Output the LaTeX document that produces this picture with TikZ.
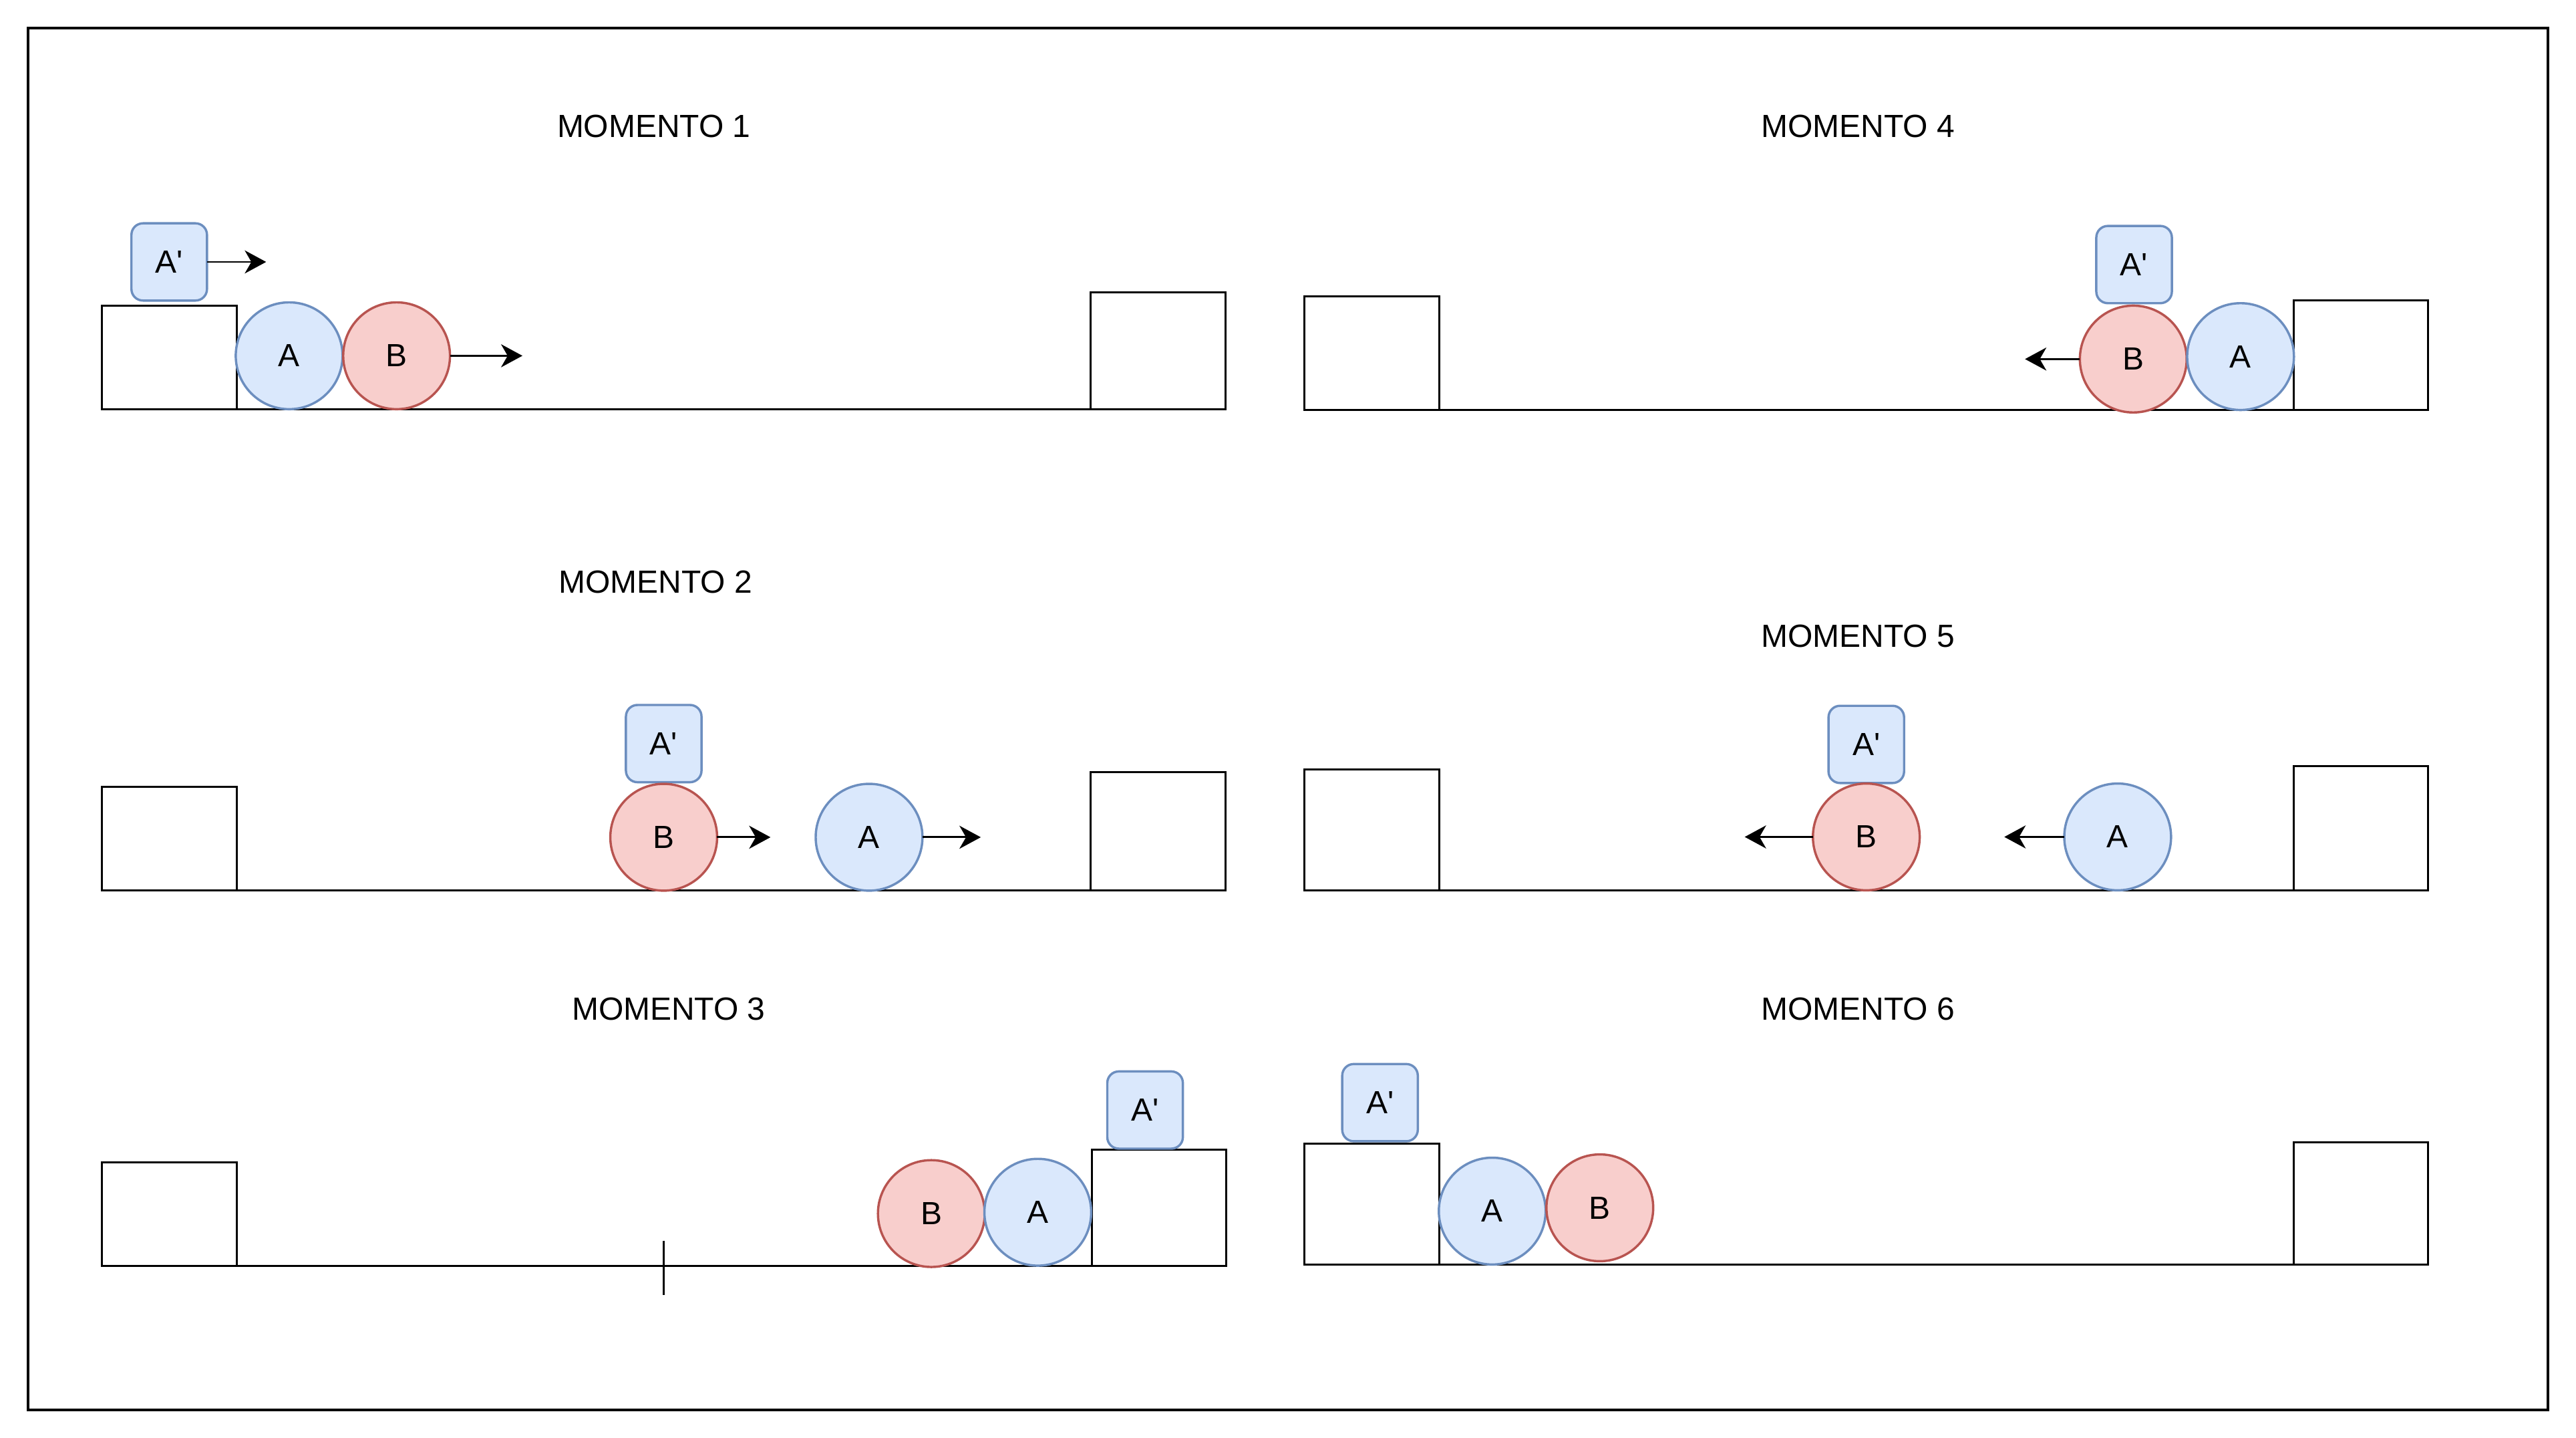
\documentclass[tikz,border=0pt]{standalone}
\usepackage{fontspec}
\setmainfont{Liberation Sans}
\usepackage{tikz}
\usetikzlibrary{arrows.meta,positioning}
\definecolor{bluefill}{HTML}{DAE8FC}
\definecolor{bluedraw}{HTML}{6C8EBF}
\definecolor{redfill}{HTML}{F8CECC}
\definecolor{reddraw}{HTML}{B85450}
\begin{document}
\begin{tikzpicture}[
    x=1pt, y=-1pt,
    heading/.style={inner sep=0pt, font=\fontsize{19.5}{23}\selectfont},
    wall/.style={rectangle, draw=black, line width=1.2pt, minimum width=82pt, inner sep=0pt, outer sep=0pt, anchor=south west},
    ball/.style={circle, line width=1.4pt, minimum size=65pt, inner sep=0pt, outer sep=0pt, font=\fontsize{19.5}{23}\selectfont},
    balla/.style={ball, draw=bluedraw, fill=bluefill},
    ballb/.style={ball, draw=reddraw, fill=redfill},
    cube/.style={rectangle, rounded corners=7pt, draw=bluedraw, fill=bluefill, line width=1.4pt, minimum width=46pt, minimum height=47pt, inner sep=0pt, outer sep=0pt, font=\fontsize{19.5}{23}\selectfont},
    ground/.style={line width=1.2pt},
    push/.style={line width=1.2pt, -{Stealth[length=13pt, width=14pt, inset=4pt]}}
]
    \useasboundingbox (0,0) rectangle (1568,875);
    \draw[line width=1.6pt] (17,17) rectangle (1551,858);

    % Momento 1
    \node[heading] (t1) at (398,77) {MOMENTO 1};
    \node[wall, minimum height=63pt] (l1) at (62,249) {};
    \node[wall, minimum height=71pt] (r1) at (664,249) {};
    \draw[ground] (l1.south east) -- (r1.south west);
    \node[cube] (p1) at (103,159.4) {A\textquotesingle};
    \node[balla] (a1) at (176,216.5) {A};
    \node[ballb] (b1) at (241.4,216.5) {B};
    \coordinate (p1e) at (162,159.4);
    \coordinate (b1e) at (318,216.5);
    \draw[push] (p1.east) -- (p1e);
    \draw[push] (b1.east) -- (b1e);

    % Momento 2
    \node[heading] (t2) at (399,354) {MOMENTO 2};
    \node[wall, minimum height=63pt] (l2) at (62,542) {};
    \node[wall, minimum height=72pt] (r2) at (664,542) {};
    \draw[ground] (l2.south east) -- (r2.south west);
    \node[cube] (p2) at (404,452.5) {A\textquotesingle};
    \node[ballb] (b2) at (404,509.5) {B};
    \node[balla] (a2) at (529,509.5) {A};
    \coordinate (b2e) at (469,509.5);
    \coordinate (a2e) at (597,509.5);
    \draw[push] (b2.east) -- (b2e);
    \draw[push] (a2.east) -- (a2e);

    % Momento 3
    \node[heading] (t3) at (407,614) {MOMENTO 3};
    \node[wall, minimum height=63pt] (l3) at (62,770.5) {};
    \node[wall, minimum height=71pt] (r3) at (664.5,770.5) {};
    \draw[ground] (l3.south east) -- (r3.south west);
    \draw[line width=1pt] (404,755) -- (404,788);
    \node[cube] (p3) at (697,675.5) {A\textquotesingle};
    \node[ballb] (b3) at (566.9,738.5) {B};
    \node[balla] (a3) at (631.7,737.7) {A};

    % Momento 4
    \node[heading] (t4) at (1131,77) {MOMENTO 4};
    \node[wall, minimum height=69pt] (l4) at (794,249.3) {};
    \node[wall, minimum height=66.7pt] (r4) at (1396,249.3) {};
    \draw[ground] (l4.south east) -- (r4.south west);
    \node[cube] (p4) at (1299,161) {A\textquotesingle};
    \node[ballb] (b4) at (1298.5,218.5) {B};
    \node[balla] (a4) at (1363.8,217) {A};
    \coordinate (b4e) at (1232.6,218.5);
    \draw[push] (b4.west) -- (b4e);

    % Momento 5
    \node[heading] (t5) at (1131,387) {MOMENTO 5};
    \node[wall, minimum height=73.5pt] (l5) at (794,541.7) {};
    \node[wall, minimum height=75.5pt] (r5) at (1396,541.7) {};
    \draw[ground] (l5.south east) -- (r5.south west);
    \node[cube] (p5) at (1136,453) {A\textquotesingle};
    \node[ballb] (b5) at (1136,509.3) {B};
    \node[balla] (a5) at (1289,509.3) {A};
    \coordinate (b5e) at (1062,509.3);
    \coordinate (a5e) at (1220,509.3);
    \draw[push] (b5.west) -- (b5e);
    \draw[push] (a5.west) -- (a5e);

    % Momento 6
    \node[heading] (t6) at (1131,614) {MOMENTO 6};
    \node[wall, minimum height=73.5pt] (l6) at (794,769.5) {};
    \node[wall, minimum height=74.5pt] (r6) at (1396,769.5) {};
    \draw[ground] (l6.south east) -- (r6.south west);
    \node[cube] (p6) at (840,671) {A\textquotesingle};
    \node[balla] (a6) at (908.3,737) {A};
    \node[ballb] (b6) at (973.8,735) {B};
\end{tikzpicture}
\end{document}
